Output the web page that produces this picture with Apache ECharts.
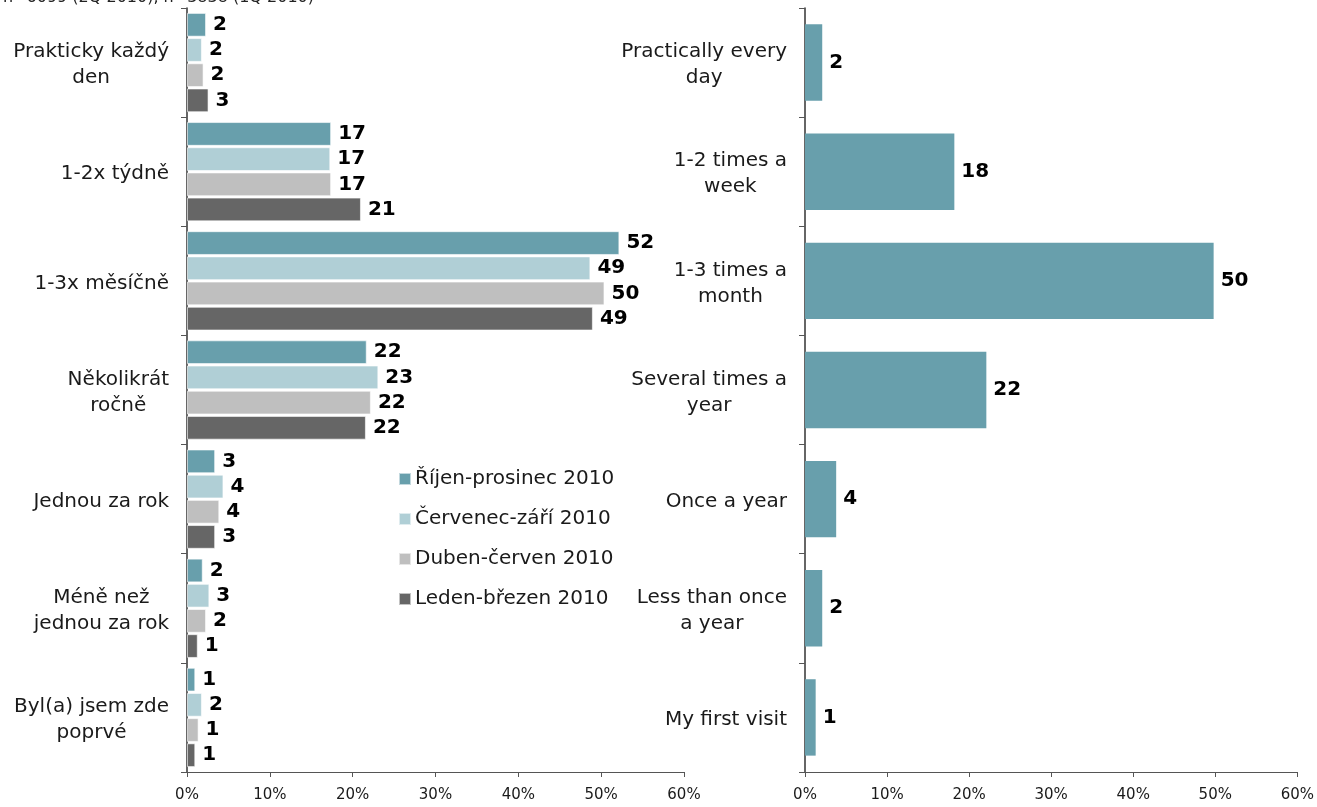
<!DOCTYPE html>
<html>
<head>
<meta charset="utf-8">
<script src="https://cdn.jsdelivr.net/npm/echarts@6/dist/echarts.min.js"></script>
<style>html,body{margin:0;padding:0;background:#fff}#c{width:1317px;height:807px}</style>
</head>
<body>
<div id="c"></div>
<script>
const noteText = 'n=6099 (2Q 2010), n=3838 (1Q 2010)';
const categoriesCz = ['Prakticky každý\nden', '1-2x týdně', '1-3x měsíčně', 'Několikrát\nročně', 'Jednou za rok', 'Méně než\njednou za rok', 'Byl(a) jsem zde\npoprvé'];
const categoriesEn = ['Practically every\nday', '1-2 times a\nweek', '1-3 times a\nmonth', 'Several times a\nyear', 'Once a year', 'Less than once\na year', 'My first visit'];
const seriesNames = ['Říjen-prosinec 2010', 'Červenec-září 2010', 'Duben-červen 2010', 'Leden-březen 2010'];
const rijenProsinec = [2.3, 17.4, 52.2, 21.7, 3.4, 1.9, 1.0];
const cervenecZari  = [1.8, 17.3, 48.7, 23.1, 4.4, 2.7, 1.8];
const dubenCerven   = [2.0, 17.4, 50.4, 22.2, 3.9, 2.3, 1.4];
const ledenBrezen   = [2.6, 21.0, 49.0, 21.6, 3.4, 1.3, 1.0];
const englishValues = [2.1, 18.2, 49.8, 22.1, 3.8, 2.1, 1.3];
const xTicks = [0, 10, 20, 30, 40, 50, 60];

const colors = ['#689fac', '#b0cfd6', '#bfbfbf', '#666666'];
const FONT = 'DejaVu Sans';

function catLabel(v) { return v.split('\n').map(s => '{c|' + s + '}').join('\n'); }

const valueLabel = {
  show: true, position: 'right', distance: 7,
  fontFamily: FONT, fontSize: 20, fontWeight: 'bold', color: '#000',
  formatter: p => Math.round(p.value)
};

function xAxisCfg(gi) {
  return {
    type: 'value', gridIndex: gi, min: xTicks[0], max: xTicks[xTicks.length - 1], interval: 10,
    axisLine: { show: true, lineStyle: { color: '#555', width: 1 } },
    axisTick: { show: true, length: 5, lineStyle: { color: '#555' } },
    splitLine: { show: false },
    axisLabel: { formatter: '{value}%', fontFamily: FONT, fontSize: 15, color: '#1a1a1a', margin: 16 }
  };
}
function yAxisCfg(gi, cats) {
  return {
    type: 'category', gridIndex: gi, data: cats, inverse: true,
    axisLine: { show: true, lineStyle: { color: '#333', width: 1.5 } },
    axisTick: { show: true, length: 6, lineStyle: { color: '#555' } },
    axisLabel: {
      margin: 18, formatter: catLabel, padding: [5, 0, 0, 0],
      rich: { c: { align: 'center', fontFamily: FONT, fontSize: 20, color: '#1a1a1a', lineHeight: 26 } }
    }
  };
}

const leftData = [rijenProsinec, cervenecZari, dubenCerven, ledenBrezen];
const series = leftData.map((d, i) => ({
  name: seriesNames[i], type: 'bar', xAxisIndex: 0, yAxisIndex: 0, data: d,
  barCategoryGap: '9%', barGap: '6%',
  itemStyle: { color: colors[i], borderColor: 'rgba(255,255,255,0.6)', borderWidth: 1 },
  label: valueLabel
}));
series.push({
  name: 'English', type: 'bar', xAxisIndex: 1, yAxisIndex: 1, data: englishValues,
  barCategoryGap: '30%',
  itemStyle: { color: colors[0] },
  label: valueLabel
});

const chart = echarts.init(document.getElementById('c'), null, { renderer: 'canvas' });
chart.setOption({
  animation: false,
  backgroundColor: '#fff',
  title: { text: noteText, left: 3, top: -10, padding: 0, textStyle: { fontFamily: FONT, fontSize: 16, fontWeight: 'normal', color: '#222' } },
  legend: {
    data: seriesNames, orient: 'vertical', left: 393, top: 464, itemWidth: 12, itemHeight: 12, itemGap: 20,
    icon: 'rect', textStyle: { fontFamily: FONT, fontSize: 20, color: '#1a1a1a', padding: [0, 0, 0, -1] }
  },
  grid: [
    { left: 187, right: 633, top: 8, bottom: 35 },
    { left: 805, right: 18, top: 8, bottom: 35 }
  ],
  xAxis: [xAxisCfg(0), xAxisCfg(1)],
  yAxis: [yAxisCfg(0, categoriesCz), yAxisCfg(1, categoriesEn)],
  series: series
});
</script>
</body>
</html>
